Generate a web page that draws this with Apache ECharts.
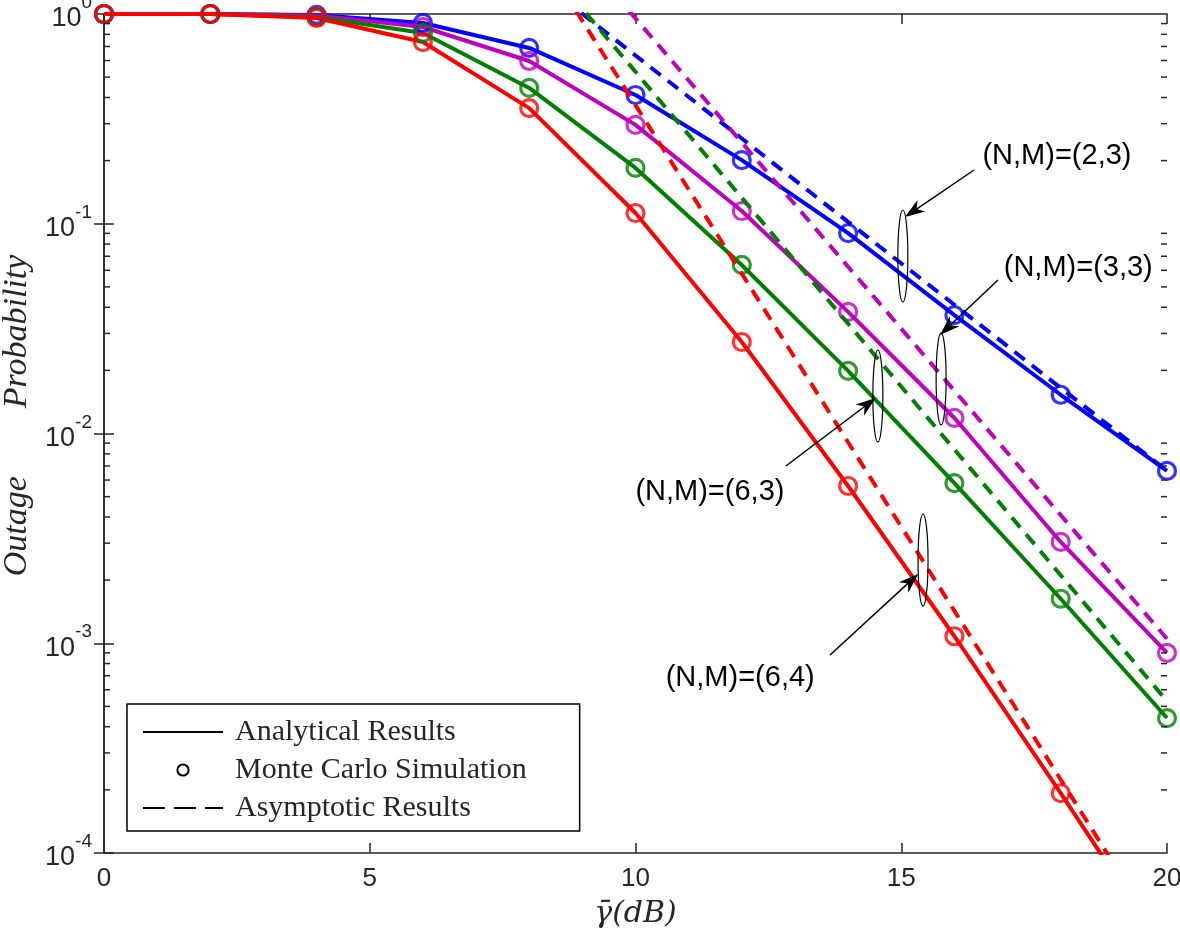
<!DOCTYPE html>
<html><head><meta charset="utf-8">
<script src="https://cdn.jsdelivr.net/npm/echarts@6/dist/echarts.min.js"></script>
<style>html,body{margin:0;padding:0;background:#fff}#c{width:1180px;height:936px}</style>
</head><body><div id="c"></div>
<script>
// ---------------- data ----------------
const snr = [0, 2, 4, 6, 8, 10, 12, 14, 16, 18, 20];
const pout_2_3 = [1, 1, 0.99, 0.906, 0.689, 0.411, 0.201, 0.0903, 0.0367, 0.0153, 0.00663];
const pout_3_3 = [1, 1, 0.985, 0.867, 0.597, 0.296, 0.115, 0.038, 0.01186, 0.00304, 0.0009];
const pout_6_3 = [1, 1, 0.968, 0.812, 0.444, 0.1845, 0.0636, 0.0199, 0.0058, 0.00163, 0.00044];
const pout_6_4 = [1, 1, 0.957, 0.735, 0.356, 0.1125, 0.0273, 0.00562, 0.00108, 0.000193, 0.000033];

const asySnr = [8, 10, 12, 14, 16, 18, 20];
const asy_2_3 = [1.58, 0.634, 0.255, 0.102, 0.0411, 0.0165, 0.00664];
const asy_3_3 = [3.73, 0.953, 0.244, 0.0624, 0.0160, 0.00408, 0.00105];
const asy_6_3 = [2.11, 0.530, 0.133, 0.0334, 0.00839, 0.00211, 0.00053];
const asy_6_4 = [2.34, 0.368, 0.0578, 0.00908, 0.001426, 0.000224, 0.000035];

const curveNames = ['(N,M)=(2,3)', '(N,M)=(3,3)', '(N,M)=(6,3)', '(N,M)=(6,4)'];
const legendNames = ['Analytical Results', 'Monte Carlo Simulation', 'Asymptotic Results'];
const xTicks = [0, 5, 10, 15, 20];
const yDecades = [-4, -3, -2, -1, 0];
const minorMultipliers = [2, 3, 4, 5, 6, 7, 8, 9];

// annotation anchors in data coordinates [snr, probability]
const annotations = [
  { label: curveNames[0], text: [17.93, 0.2104], from: [16.37, 0.1804], to: [15.07, 0.1077], ell: [15.03, 0.0702] },
  { label: curveNames[1], text: [18.33, 0.0615], from: [16.82, 0.0539], to: [15.73, 0.0295], ell: [15.75, 0.0182] },
  { label: curveNames[2], text: [11.40, 0.00526], from: [12.83, 0.0070], to: [14.52, 0.01476], ell: [14.56, 0.0151] },
  { label: curveNames[3], text: [11.97, 0.000683], from: [13.66, 0.000879], to: [15.32, 0.00214], ell: [15.41, 0.00249] }
];

// ---------------- styling ----------------
const colors = ['#0000FF', '#BF00BF', '#008000', '#FF0000'];
const axisColor = '#262626';
const sans = "'Liberation Sans', Arial, Helvetica, sans-serif";
const serif = "'Liberation Serif', 'DejaVu Serif', 'Times New Roman', serif";
const mathSerif = "'DejaVu Serif', 'Liberation Serif', serif";

const analytic = [pout_2_3, pout_3_3, pout_6_3, pout_6_4];
const asym = [asy_2_3, asy_3_3, asy_6_3, asy_6_4];
const minorTicks = [];
yDecades.slice(0, -1).forEach(d => minorMultipliers.forEach(m => minorTicks.push(m * Math.pow(10, d))));

const series = [];
analytic.forEach((arr, i) => {
  series.push({
    name: curveNames[i] + ' analytical', type: 'line', xAxisIndex: 0, yAxisIndex: 0,
    data: snr.map((x, k) => [x, arr[k]]), showSymbol: false, symbol: 'none',
    lineStyle: { color: colors[i], width: 4 }, itemStyle: { color: colors[i] }, z: 3, clip: true
  });
});
analytic.forEach((arr, i) => {
  series.push({
    name: curveNames[i] + ' simulation', type: 'scatter', xAxisIndex: 0, yAxisIndex: 0,
    data: snr.map((x, k) => [x, arr[k]]), symbol: 'circle', symbolSize: 17,
    itemStyle: { color: 'rgba(0,0,0,0)', borderColor: colors[i], borderWidth: 3.2 }, z: 4, clip: true
  });
});
asym.forEach((arr, i) => {
  series.push({
    name: curveNames[i] + ' asymptotic', type: 'line', xAxisIndex: 0, yAxisIndex: 0,
    data: asySnr.map((x, k) => [x, arr[k]]), showSymbol: false, symbol: 'none',
    lineStyle: { color: colors[i], width: 4, type: [13, 9] }, itemStyle: { color: colors[i] }, z: 5, clip: true
  });
});
// legend-only series (black)
series.push({ name: legendNames[0], type: 'line', data: [], symbol: 'none', color: '#000', lineStyle: { color: '#000', width: 2 } });
series.push({ name: legendNames[1], type: 'line', data: [], symbol: 'emptyCircle', symbolSize: 12, color: '#000', lineStyle: { color: '#000', width: 0 }, itemStyle: { color: '#000', borderWidth: 2 } });
series.push({ name: legendNames[2], type: 'line', data: [], symbol: 'none', color: '#000', lineStyle: { color: '#000', width: 2, type: [22, 9] } });
// minor log ticks drawn through the y scale
series.push({
  type: 'custom', xAxisIndex: 0, yAxisIndex: 0, clip: false, silent: true, z: 6,
  data: minorTicks.map(v => [0, v]), encode: { x: 0, y: 1 },
  renderItem: (params, api) => {
    const v = api.value(1);
    const pL = api.coord([0, v]);
    const pR = api.coord([20, v]);
    const st = { stroke: axisColor, lineWidth: 1.5 };
    return { type: 'group', children: [
      { type: 'line', shape: { x1: pL[0], y1: pL[1], x2: pL[0] + 6, y2: pL[1] }, style: st },
      { type: 'line', shape: { x1: pR[0], y1: pR[1], x2: pR[0] - 6, y2: pR[1] }, style: st }
    ] };
  }
});

const chart = echarts.init(document.getElementById('c'), null, { renderer: 'canvas' });
const axisLineStyle = { show: true, lineStyle: { color: axisColor, width: 1.5 } };
chart.setOption({
  animation: false,
  backgroundColor: '#fff',
  grid: { left: 104, right: 13, top: 14, bottom: 83, show: false, containLabel: false, outerBoundsMode: 'none' },
  legend: {
    data: [
      { name: legendNames[0], itemStyle: { opacity: 0 } },
      { name: legendNames[1] },
      { name: legendNames[2], itemStyle: { opacity: 0 } }
    ],
    orient: 'vertical', left: 127, top: 704,
    itemWidth: 80, itemHeight: 14, itemGap: 8,
    padding: [13, 53, 8, 15],
    borderColor: '#000', borderWidth: 1.5, backgroundColor: '#fff',
    textStyle: { fontFamily: serif, fontSize: 30, color: '#262626', padding: [0, 0, 0, 7] },
    selectedMode: false
  },
  xAxis: [
    {
      type: 'value', min: 0, max: 20, interval: 5, position: 'bottom',
      axisLine: axisLineStyle, axisTick: { inside: true, length: 10, lineStyle: { color: axisColor, width: 1.5 } },
      axisLabel: { fontFamily: sans, fontSize: 26, color: axisColor, margin: 13 },
      splitLine: { show: false },
      name: 'γ\u0304(dB)', nameLocation: 'middle', nameGap: 46,
      nameTextStyle: { fontFamily: mathSerif, fontStyle: 'italic', fontSize: 30, color: axisColor }
    },
    {
      type: 'value', min: 0, max: 20, interval: 5, position: 'top',
      axisLine: axisLineStyle, axisTick: { inside: true, length: 10, lineStyle: { color: axisColor, width: 1.5 } },
      axisLabel: { show: false }, splitLine: { show: false }
    }
  ],
  yAxis: [
    {
      type: 'log', logBase: 10, min: 1e-4, max: 1, interval: 1, position: 'left',
      axisLine: axisLineStyle, axisTick: { inside: true, length: 10, lineStyle: { color: axisColor, width: 1.5 } },
      splitLine: { show: false },
      axisLabel: {
        margin: 12,
        formatter: v => '{b|10}{e|' + Math.round(Math.log10(v)) + '}',
        rich: {
          b: { fontFamily: sans, fontSize: 27, color: axisColor, padding: [10, 0, 0, 0] },
          e: { fontFamily: sans, fontSize: 19, color: axisColor, padding: [0, 0, 22, 0] }
        }
      },
      name: 'Outage\u2003\u2003Probability', nameLocation: 'middle', nameGap: 70,
      nameTextStyle: { fontFamily: serif, fontStyle: 'italic', fontSize: 34, color: axisColor, padding: [0, 0, 0, 36] }
    },
    {
      type: 'log', logBase: 10, min: 1e-4, max: 1, interval: 1, position: 'right',
      axisLine: axisLineStyle, axisTick: { inside: true, length: 10, lineStyle: { color: axisColor, width: 1.5 } },
      axisLabel: { show: false }, splitLine: { show: false }
    }
  ],
  series: series
});

// ---------------- annotations (ellipse + arrow + label) ----------------
function toPx(p) { return chart.convertToPixel({ seriesIndex: 0 }, p); }
const graphics = [];
annotations.forEach(a => {
  const t = toPx(a.text), f = toPx(a.from), to = toPx(a.to), e = toPx(a.ell);
  graphics.push({ type: 'ellipse', shape: { cx: e[0], cy: e[1], rx: 5, ry: 46 }, style: { fill: 'none', stroke: '#000', lineWidth: 1.2 }, z: 100 });
  const dx = to[0] - f[0], dy = to[1] - f[1], len = Math.hypot(dx, dy);
  const ux = dx / len, uy = dy / len, nx = -uy, ny = ux;
  const L = 20, W = 7, notch = 14;
  const b1 = [to[0] - ux * L + nx * W, to[1] - uy * L + ny * W];
  const b2 = [to[0] - ux * L - nx * W, to[1] - uy * L - ny * W];
  const nb = [to[0] - ux * notch, to[1] - uy * notch];
  graphics.push({ type: 'line', shape: { x1: f[0], y1: f[1], x2: nb[0], y2: nb[1] }, style: { stroke: '#000', lineWidth: 1.5 }, z: 100 });
  graphics.push({ type: 'polygon', shape: { points: [to, b1, nb, b2] }, style: { fill: '#000' }, z: 100 });
  graphics.push({ type: 'text', x: t[0], y: t[1], style: { text: a.label, fontFamily: sans, fontSize: 29, fill: '#000', align: 'center', verticalAlign: 'middle' }, z: 100 });
});
chart.setOption({ graphic: graphics });
</script>
</body></html>
